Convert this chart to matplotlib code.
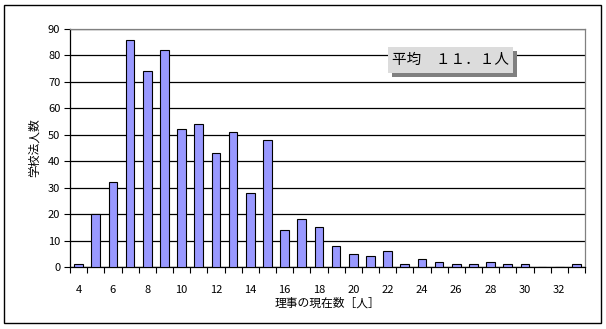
import matplotlib.pyplot as plt
from matplotlib.patches import Rectangle
import numpy as np

plt.rcParams['font.family'] = ['Noto Sans CJK JP', 'DejaVu Sans']

members = list(range(4, 34))
counts = [1, 20, 32, 86, 74, 82, 52, 54, 43, 51, 28, 48, 14, 18, 15,
          8, 5, 4, 6, 1, 3, 2, 1, 1, 2, 1, 1, 0, 0, 1]
tick_labels = [str(m) for m in members[::2]]

fig = plt.figure(figsize=(6.06, 3.29), dpi=100)
ax = fig.add_axes([70 / 606, 1 - 267 / 329, 515 / 606, 238 / 329])

pos = np.arange(len(members))
ax.bar(pos, counts, width=0.5, color='#9999FF', edgecolor='black',
       linewidth=0.8, zorder=3)

ax.set_xlim(-0.5, len(members) - 0.5)
ax.set_ylim(0, 90)
ax.set_yticks(range(0, 91, 10))
ax.yaxis.grid(True, color='black', linewidth=0.9, zorder=0)

ax.set_xticks(pos[::2])
ax.set_xticklabels(tick_labels)
ax.set_xticks(np.arange(-0.5, len(members)), minor=True)
ax.tick_params(axis='x', which='major', length=0, pad=13, labelsize=8)
ax.tick_params(axis='x', which='minor', length=4, direction='out', width=0.8)
ax.tick_params(axis='y', length=4, width=0.8, labelsize=8, pad=3)

for s in ['left', 'bottom']:
    ax.spines[s].set_color('black')
    ax.spines[s].set_linewidth(0.9)
for s in ['right', 'top']:
    ax.spines[s].set_color('#808080')
    ax.spines[s].set_linewidth(0.9)

ax.set_xlabel('理事の現在数［人］', fontsize=8.5, labelpad=1)
ax.set_ylabel('学校法人数', fontsize=8.5, labelpad=5)

# mean box with shadow
fig.patches.append(Rectangle((392 / 606, 1 - 77 / 329), 125 / 606, 26 / 329,
                             transform=fig.transFigure, facecolor='#808080',
                             edgecolor='none', zorder=4))
fig.patches.append(Rectangle((388 / 606, 1 - 73 / 329), 125 / 606, 26 / 329,
                             transform=fig.transFigure, facecolor='#DCDCDC',
                             edgecolor='none', zorder=5))
fig.text(450 / 606, 1 - 60 / 329, '平均　１１．１人', fontsize=10.5,
         ha='center', va='center', zorder=6)

# outer frame
fig.patches.append(Rectangle((4 / 606, 1 - 323 / 329), 597 / 606, 318 / 329,
                             transform=fig.transFigure, facecolor='none',
                             edgecolor='black', linewidth=1))

fig.savefig('out.png', dpi=100)
